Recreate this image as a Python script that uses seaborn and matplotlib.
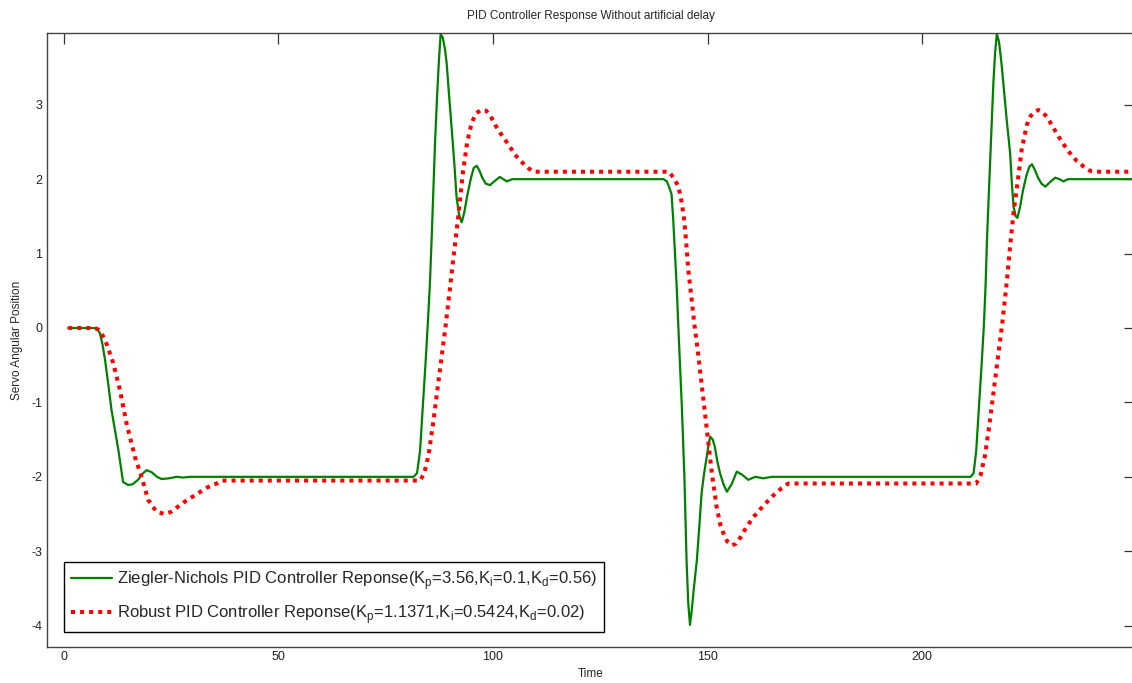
import numpy as np
import pandas as pd
import matplotlib
matplotlib.use("Agg")
import matplotlib.pyplot as plt
import seaborn as sns

# readings taken off the reference plot (time, servo angle)
zn_time = [1, 7.6, 8.4, 9.0, 9.6, 10.4, 11.1, 12.0, 12.7, 13.4, 13.8, 15.0, 16.0, 17.3, 18.3,
           19.3, 20.5, 21.7, 22.8, 24.5, 26.3, 27.8, 29.4, 31.0, 81.5, 82.3, 83.0, 83.7, 84.3,
           84.8, 85.3, 85.7, 86.1, 86.5, 87.0, 87.4, 87.8, 88.3, 88.8, 89.2, 89.8, 90.4, 91.0,
           91.5, 92.1, 92.7, 93.3, 94.0, 94.8, 95.5, 96.2, 96.8, 97.5, 98.3, 99.3, 100.5, 101.6,
           102.4, 103.2, 104.5, 139.7, 140.5, 141.0, 141.6, 142.0, 142.4, 142.8, 143.4, 144.0,
           144.6, 145.1, 145.5, 145.9, 146.3, 146.8, 147.5, 148.1, 148.6, 149.2, 149.7, 150.2,
           150.6, 151.2, 151.7, 152.3, 152.9, 153.7, 154.5, 155.6, 156.8, 158.0, 159.5, 161.1,
           163.0, 165.0, 211.3, 212.0, 212.6, 213.3, 213.9, 214.4, 214.8, 215.1, 215.6, 216.1,
           216.6, 217.0, 217.4, 217.9, 218.5, 219.0, 219.7, 220.5, 220.9, 221.3, 221.8, 222.2,
           222.8, 223.5, 224.3, 225.0, 225.6, 226.3, 227.0, 227.8, 228.7, 229.8, 231.0, 232.0,
           232.9, 234.0, 249.6]
zn_angle = [0, 0, -0.07, -0.22, -0.43, -0.78, -1.1, -1.4, -1.64, -1.91, -2.07, -2.11, -2.1, -2.04, -1.96,
            -1.91, -1.94, -2.0, -2.03, -2.02, -2.0, -2.01, -2.0, -2.0, -2.0, -1.95, -1.65, -1.0, -0.45,
            0.05, 0.6, 1.2, 1.85, 2.5, 3.15, 3.6, 3.95, 3.9, 3.75, 3.56, 3.1, 2.66, 2.2,
            1.76, 1.52, 1.42, 1.55, 1.78, 2.0, 2.15, 2.18, 2.12, 2.02, 1.94, 1.92, 1.98, 2.03,
            2.0, 1.97, 2.0, 2.0, 1.97, 1.9, 1.8, 1.45, 1.0, 0.56, -0.27, -1.05,
            -2.0, -3.12, -3.7, -3.99, -3.8, -3.5, -3.12, -2.65, -2.22, -1.95, -1.77, -1.58,
            -1.46, -1.5, -1.6, -1.8, -1.95, -2.1, -2.2, -2.1, -1.93, -1.97, -2.04, -2.0,
            -2.02, -2.0, -2.0, -1.95, -1.65, -1.0, -0.45, 0.05, 0.6, 1.18, 1.9, 2.6,
            3.3, 3.7, 3.95, 3.85, 3.55, 3.24, 2.8, 2.35, 1.95, 1.63, 1.5, 1.48,
            1.62, 1.85, 2.05, 2.17, 2.2, 2.12, 2.02, 1.94, 1.9, 1.96, 2.02, 2.0,
            1.97, 2.0, 2.0]

rb_time = [1, 7.2, 8.0, 8.8, 10.0, 11.5, 13.05, 14.6, 16.55, 18.1, 19.65, 21.6, 23.5, 25.0, 26.6,
           28.5, 31.3, 33.5, 35.6, 36.8, 83.0, 84.0, 85.0, 86.0, 87.0, 88.0, 89.0, 90.0, 91.0,
           92.0, 93.0, 94.0, 95.0, 96.0, 97.2, 98.4, 99.5, 100.5, 101.7, 102.8, 104.0, 105.1,
           106.5, 108.2, 109.4, 141.0, 142.3, 143.2, 144.0, 144.6, 145.1, 145.5, 146.3, 146.9,
           147.6, 148.6, 149.4, 150.2, 151.0, 152.1, 153.0, 153.7, 154.6, 155.6, 156.6, 157.6,
           159.0, 160.7, 162.2, 163.8, 165.5, 167.3, 168.8, 212.6, 213.6, 214.6, 215.6, 216.6,
           217.6, 218.6, 219.6, 220.5, 221.3, 222.4, 223.2, 224.4, 225.3, 226.3, 227.1, 227.9,
           229.0, 230.2, 231.7, 233.3, 234.7, 236.1, 237.6, 239.2, 240.5, 249.6]
rb_angle = [0, 0, -0.02, -0.07, -0.22, -0.47, -0.83, -1.28, -1.73, -2.0, -2.31, -2.47, -2.5, -2.47, -2.4,
            -2.32, -2.22, -2.14, -2.09, -2.05, -2.05, -1.95, -1.7, -1.3, -0.85, -0.4, 0.05, 0.55, 1.05,
            1.55, 2.1, 2.5, 2.75, 2.88, 2.93, 2.92, 2.84, 2.73, 2.62, 2.53, 2.43, 2.33,
            2.24, 2.15, 2.1, 2.1, 2.0, 1.9, 1.68, 1.43, 1.09, 0.78, 0.38, 0.06,
            -0.25, -0.75, -1.15, -1.55, -1.95, -2.4, -2.65, -2.76, -2.87, -2.92, -2.9, -2.82,
            -2.68, -2.54, -2.44, -2.34, -2.24, -2.15, -2.09, -2.09, -1.98, -1.73, -1.33, -0.88,
            -0.42, 0.03, 0.55, 1.1, 1.55, 2.03, 2.4, 2.73, 2.85, 2.91, 2.93, 2.91,
            2.84, 2.73, 2.58, 2.44, 2.33, 2.24, 2.17, 2.11, 2.1, 2.1]

x_ticks = [0, 50, 100, 150, 200]
y_ticks = [-4, -3, -2, -1, 0, 1, 2, 3]

zn_label = "Ziegler-Nichols PID Controller Reponse(K$_\\mathregular{p}$=3.56,K$_\\mathregular{i}$=0.1,K$_\\mathregular{d}$=0.56)"
rb_label = "Robust PID Controller Reponse(K$_\\mathregular{p}$=1.1371,K$_\\mathregular{i}$=0.5424,K$_\\mathregular{d}$=0.02)"

sns.set_style("white")
plt.rcParams['font.family'] = ['Liberation Sans', 'DejaVu Sans']
plt.rcParams['axes.unicode_minus'] = False

fig = plt.figure(figsize=(11.32, 6.83), dpi=100)
# axes box placed to match the reference (right edge runs off the picture)
ax = fig.add_axes([46.7 / 1132, 36.5 / 683, 1088.3 / 1132, 613.2 / 683])

zn = pd.DataFrame({'Time': zn_time, 'angle': zn_angle})
rb = pd.DataFrame({'Time': rb_time, 'angle': rb_angle})

sns.lineplot(data=zn, x='Time', y='angle', color=(0, 0.5, 0), linewidth=1.6,
             label=zn_label, ax=ax)
sns.lineplot(data=rb, x='Time', y='angle', color=(1, 0, 0), linewidth=2.9,
             label=rb_label, ax=ax)
ax.lines[1].set_linestyle((0, (1, 1.25)))
ax.lines[1].set_dash_capstyle('butt')

ax.set_xlim(-4, 249.6)
ax.set_ylim(-4.28, 3.96)
ax.set_xticks(x_ticks)
ax.set_yticks(y_ticks)

for s in ax.spines.values():
    s.set_color('#444444')
    s.set_linewidth(1.0)
ax.tick_params(direction='in', length=8, width=0.9, color='#333333',
               top=True, right=True, labelsize=9, labelcolor='#222222', pad=3)

ax.set_title('PID Controller Response Without artificial delay', fontsize=8.5, pad=10)
ax.set_xlabel('Time', fontsize=8.5, labelpad=4)
ax.set_ylabel('Servo Angular Position', fontsize=8.5, labelpad=6)

leg = ax.legend(loc='lower left', bbox_to_anchor=(0.0159, 0.023), fontsize=12.0,
                frameon=True, fancybox=False, framealpha=1, edgecolor='black',
                handlelength=2.45, handletextpad=0.35, labelspacing=0.65,
                borderpad=0.4, borderaxespad=0)
leg.get_frame().set_linewidth(1.0)
leg.get_lines()[1].set_linestyle((0, (1, 1.25)))

fig.savefig('out.png', dpi=100)
